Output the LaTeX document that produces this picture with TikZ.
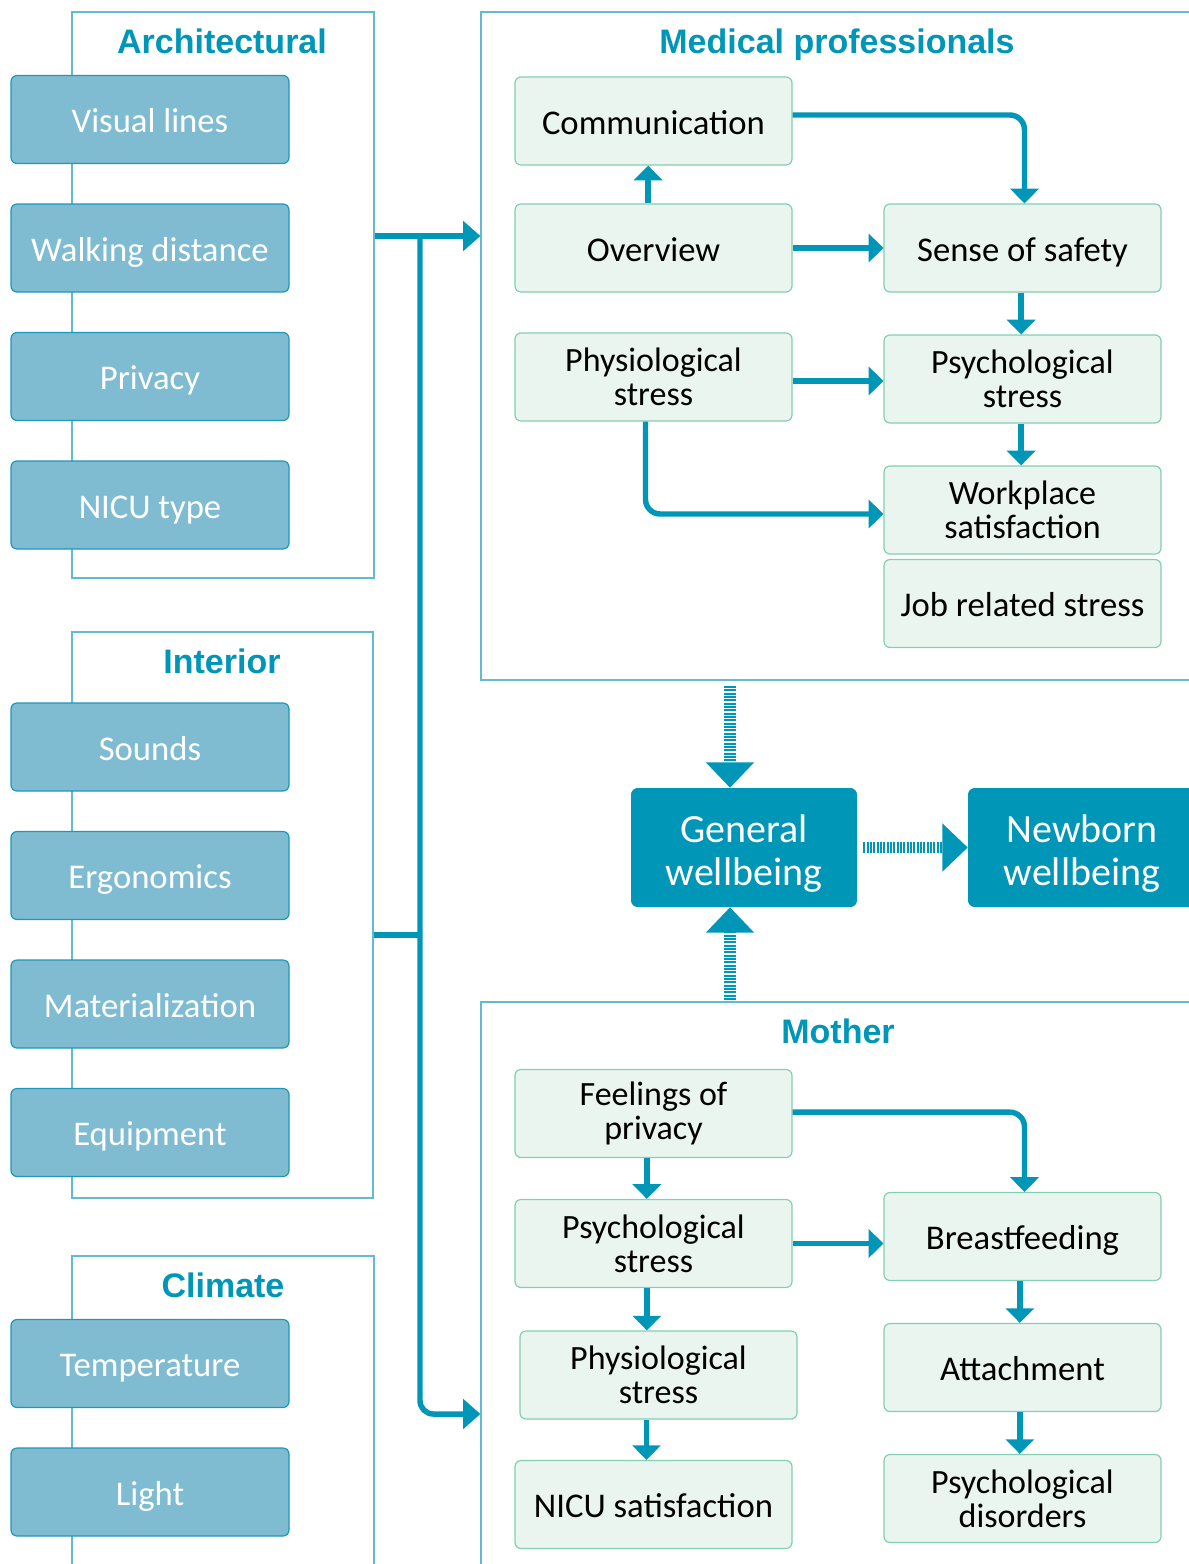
\documentclass[tikz,border=0pt]{standalone}
\usepackage{fontspec}
\setmainfont{Carlito}
\newfontfamily\hdfont{Liberation Sans}
\usetikzlibrary{arrows.meta}
\definecolor{tealc}{RGB}{0,150,183}
\definecolor{lfill}{RGB}{127,188,210}
\definecolor{lborder}{RGB}{30,152,186}
\definecolor{gfill}{RGB}{234,245,239}
\definecolor{gborder}{RGB}{130,208,178}
\definecolor{framec}{RGB}{100,186,210}
\begin{document}
\begin{tikzpicture}[x=0.75pt,y=-0.75pt,
  frm/.style={draw=framec, line width=0.9pt, inner sep=0pt},
  lbox/.style={draw=lborder, fill=lfill, line width=0.9pt, rounded corners=4.5pt,
    minimum width=208.5pt, minimum height=66pt, inner sep=0pt, text=white,
    text height=19.5pt, text depth=0pt,
    font=\fontsize{26}{23}\selectfont},
  gbox/.style={draw=gborder, fill=gfill, line width=0.9pt, rounded corners=4.5pt,
    minimum width=207.75pt, minimum height=66pt, inner sep=0pt, align=center,
    font=\fontsize{25.5}{25.5}\selectfont},
  gone/.style={gbox, text height=19.5pt, text depth=0pt, font=\fontsize{26}{23}\selectfont},
  bbox/.style={fill=tealc, rounded corners=5pt, minimum width=169.5pt,
    minimum height=89.25pt, inner sep=0pt, text=white, align=center,
    font=\fontsize{30}{32.25}\selectfont},
  ttl/.style={text=tealc, inner sep=0pt, anchor=base, font=\hdfont\bfseries\fontsize{25.5}{28}\selectfont},
  arr/.style={draw=tealc, line width=4.1pt, -{Triangle[width=21pt,length=11pt]}},
  barr/.style={draw=tealc, line width=4.1pt, -{Triangle[width=22pt,length=13pt]}},
  bline/.style={draw=tealc, line width=4.1pt},
  dotarr/.style={draw=tealc, line width=8.5pt, dash pattern=on 1.5pt off 1pt,
    -{Triangle[width=35pt,length=19pt]}}
]
\useasboundingbox (0,0) rectangle (1189,1564);
\fill[white] (0,0) rectangle (1189,1564);

% frames
\node[frm, minimum width=226.5pt, minimum height=424.5pt] (archf) at (223,295) {};
\node[frm, minimum width=225.75pt, minimum height=424.5pt] (intf) at (222.5,915) {};
\node[frm, minimum width=226.5pt, minimum height=235.5pt] (climf) at (223,1413) {};
\node[frm, minimum width=539.25pt, minimum height=501pt] (medf) at (840.5,346) {};
\node[frm, minimum width=539.25pt, minimum height=426pt] (motf) at (840.5,1286) {};

% titles
\node[ttl] (tA) at (222,53) {Architectural};
\node[ttl] (tI) at (222,673) {Interior};
\node[ttl] (tC) at (223,1297) {Climate};
\node[ttl] (tM) at (837,53) {Medical professionals};
\node[ttl] (tMo) at (838,1043) {Mother};

% left boxes
\node[lbox] (vis) at (150,119.5) {Visual lines};
\node[lbox] (walk) at (150,248) {Walking distance};
\node[lbox] (priv) at (150,376.5) {Privacy};
\node[lbox] (nicu) at (150,505) {NICU type};
\node[lbox] (snd) at (150,747) {Sounds};
\node[lbox] (ergo) at (150,875.5) {Ergonomics};
\node[lbox] (mat) at (150,1004) {Materialization};
\node[lbox] (equ) at (150,1132.5) {Equipment};
\node[lbox] (temp) at (150,1363.5) {Temperature};
\node[lbox] (light) at (150,1492) {Light};

% medical professionals
\node[gone] (comm) at (653.5,121) {Communication};
\node[gone] (ov) at (653.5,248) {Overview};
\node[gone] (safe) at (1022.5,248) {Sense of safety};
\node[gbox] (phys) at (653.5,377) {Physiological\\stress};
\node[gbox] (psy) at (1022.5,379) {Psychological\\stress};
\node[gbox] (work) at (1022.5,510) {Workplace\\satisfaction};
\node[gone] (job) at (1022.5,603.5) {Job related stress};

% mother
\node[gbox] (feel) at (653.5,1113.5) {Feelings of\\privacy};
\node[gbox] (mpsy) at (653.5,1243.5) {Psychological\\stress};
\node[gbox] (mphys) at (658.5,1375) {Physiological\\stress};
\node[gone] (msat) at (653.5,1504.5) {NICU satisfaction};
\node[gone] (breast) at (1022.5,1236.5) {Breastfeeding};
\node[gone] (att) at (1022.5,1367.5) {Attachment};
\node[gbox] (pdis) at (1022.5,1498.5) {Psychological\\disorders};

% wellbeing
\node[bbox] (gw) at (744,847.5) {\rule{0pt}{30pt}General\\wellbeing};
\node[bbox, minimum width=171pt] (nb) at (1082,847.5) {\rule{0pt}{30pt}Newborn\\wellbeing};

% bracket
\coordinate (j1) at (420,236);
\coordinate (j2) at (420,935);
\coordinate (j3) at (420,1414);
\draw[barr] (archf.east |- j1) -- (medf.west |- j1);
\draw[barr, rounded corners=10pt] (j1) -- (j3) -- (motf.west |- j3);
\draw[bline] (intf.east |- j2) -- (j2);

% medical arrows
\draw[arr, rounded corners=11pt] ([yshift=4.5pt]comm.east) -| ([xshift=1.5pt]safe.north);
\draw[arr] ([xshift=-4pt]ov.north) -- ([xshift=-4pt]comm.south);
\draw[arr] (ov.east) -- (safe.west);
\draw[arr] ([xshift=-1pt]safe.south) -- ([xshift=-1pt]psy.north);
\draw[arr] ([yshift=-3pt]phys.east) -- ([yshift=-1.5pt]psy.west);
\draw[arr] ([xshift=-1pt]psy.south) -- ([xshift=-1pt]work.north);
\draw[arr, rounded corners=11pt] ([xshift=-6pt]phys.south) |- ([yshift=-3pt]work.west);

% mother arrows
\draw[arr, rounded corners=11pt] ([yshift=1pt]feel.east) -| ([xshift=1.5pt]breast.north);
\draw[arr] ([xshift=-5pt]feel.south) -- ([xshift=-5pt]mpsy.north);
\draw[arr] (mpsy.east) -- (mpsy.east -| breast.west);
\draw[arr] ([xshift=-5pt]mpsy.south) -- ([xshift=-5pt]mpsy.south |- mphys.north);
\draw[arr] ([xshift=-9pt]mphys.south) -- ([xshift=-9pt]mphys.south |- msat.north);
\draw[arr] ([xshift=-2pt]breast.south) -- ([xshift=-2pt]att.north);
\draw[arr] ([xshift=-2pt]att.south) -- ([xshift=-2pt]pdis.north);

% dotted arrows
\coordinate (d1) at (730,686);
\coordinate (d2) at (730,1000);
\draw[dotarr] (d1) -- (d1 |- gw.north);
\draw[dotarr] (d2) -- (d2 |- gw.south);
\draw[dotarr] ([xshift=4.5pt]gw.east) -- (nb.west);
\end{tikzpicture}
\end{document}
